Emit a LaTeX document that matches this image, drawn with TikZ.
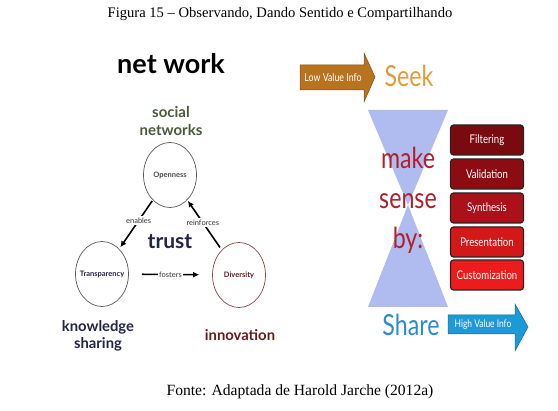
\documentclass[tikz,border=0pt]{standalone}
\usepackage{fontspec}
\setmainfont{Liberation Serif}
\newfontfamily\gsans{Lato}
\newfontfamily\gcond[FakeStretch=0.8]{Lato}
\usetikzlibrary{arrows.meta,shapes.geometric}
\definecolor{olivegreen}{HTML}{4A5A3A}
\definecolor{navy}{HTML}{24244A}
\definecolor{innov}{HTML}{6A1A1A}
\definecolor{lowinfo}{HTML}{B8731E}
\definecolor{seekc}{HTML}{E49A3C}
\definecolor{hglass}{HTML}{B0BCF0}
\definecolor{makec}{HTML}{B0202A}
\definecolor{sharec}{HTML}{2A8CD0}
\definecolor{highinfo}{HTML}{1C9AD6}
\definecolor{boxA}{HTML}{780A10}
\definecolor{boxB}{HTML}{8C0C12}
\definecolor{boxC}{HTML}{AC1018}
\definecolor{boxD}{HTML}{D41818}
\definecolor{boxE}{HTML}{EC1C1C}
\tikzset{
  bubble/.style={ellipse, draw=black!65, line width=0.7pt, minimum width=53pt, minimum height=65pt, inner sep=0pt},
  bubtext/.style={font=\gsans\bfseries\fontsize{7.5}{8}\selectfont},
  bigbold/.style={font=\gsans\bfseries\fontsize{14.8}{17}\selectfont},
  linkarrow/.style={line width=1.6pt, -{Latex[length=6pt,width=6pt]}},
  linklabel/.style={fill=white, inner sep=1.5pt, font=\gsans\fontsize{7.5}{8}\selectfont, text=black!80},
  redbox/.style={rectangle, rounded corners=3pt, draw=black!85, line width=1.2pt, minimum width=73pt, minimum height=30pt, text=white, font=\gcond\fontsize{12}{13}\selectfont},
  bigword/.style={font=\gcond\fontsize{29}{30}\selectfont},
  infotext/.style={font=\gcond\fontsize{11}{12}\selectfont, text=white}
}
\begin{document}
\begin{tikzpicture}[x=1pt,y=-1pt]
\useasboundingbox (0,0) rectangle (558,411);
\fill[white] (0,0) rectangle (558,411);
% captions
\node[font=\fontsize{14.6}{16}\selectfont] (title) at (280,14) {Figura 15 -- Observando, Dando Sentido e Compartilhando};
\node[font=\fontsize{15.6}{17}\selectfont] (source) at (300,392) {Fonte: Adaptada de Harold Jarche (2012a)};
% left diagram
\node[font=\gsans\bfseries\fontsize{27}{29}\selectfont] (network) at (171,64) {net work};
\node[bigbold, font=\gsans\bfseries\fontsize{15}{18}\selectfont, text=olivegreen, align=center] (social) at (171,121) {social\\networks};
\node[bubble] (open) at (170,175) {};
\node[bubtext, text=black!70] at (open) {Openness};
\node[bubble] (trans) at (102,274) {};
\node[bubtext, text=navy] at (trans) {Transparency};
\node[bubble, draw=innov!80] (div) at (239,275) {};
\node[bubtext, text=innov] at (div) {Diversity};
\node[font=\gsans\bfseries\fontsize{21}{22}\selectfont, text=navy] (trust) at (170,242) {trust};
\draw[linkarrow, shorten <=1pt, shorten >=2pt] (open) -- node[linklabel, pos=0.42] {enables} (trans);
\draw[linkarrow, shorten <=3pt, shorten >=1pt] (div) -- node[linklabel, pos=0.55] {reinforces} (open);
\draw[linkarrow, shorten <=13pt, shorten >=13pt] (trans) -- node[linklabel] {fosters} (div);
\node[bigbold, text=navy, align=center] (know) at (98,336) {knowledge\\sharing};
\node[bigbold, text=innov] (innov) at (240,335) {innovation};
% right diagram
\fill[hglass] (368,110) -- (448,110) -- (408,205) -- (448,307) -- (368,307) -- (408,205) -- cycle;
\draw[fill=lowinfo, draw=lowinfo!70!black, line width=0.5pt]
  (300,65) -- (364,65) -- (364,53) -- (375,77) -- (364,102) -- (364,90) -- (300,90) -- cycle;
\node[infotext] (low) at (333,77.5) {Low Value Info};
\node[bigword, text=seekc] (seek) at (409,76) {Seek};
\node[bigword, text=makec, align=center, font=\gcond\fontsize{29}{40}\selectfont] (make) at (408,200) {make\\sense\\by:};
\node[redbox, fill=boxA] (f1) at (487,140) {Filtering};
\node[redbox, fill=boxB] (f2) at (487,174) {Validation};
\node[redbox, fill=boxC] (f3) at (487,208) {Synthesis};
\node[redbox, fill=boxD] (f4) at (487,242) {Presentation};
\node[redbox, fill=boxE] (f5) at (487,275) {Customization};
\node[bigword, text=sharec] (share) at (411,325) {Share};
\draw[fill=highinfo, draw=highinfo!70!black, line width=0.5pt]
  (448,315) -- (515,315) -- (515,304) -- (528,327) -- (515,351) -- (515,334) -- (448,334) -- cycle;
\node[infotext, font=\gcond\fontsize{10.5}{11}\selectfont] (high) at (483,324.5) {High Value Info};
\end{tikzpicture}
\end{document}
